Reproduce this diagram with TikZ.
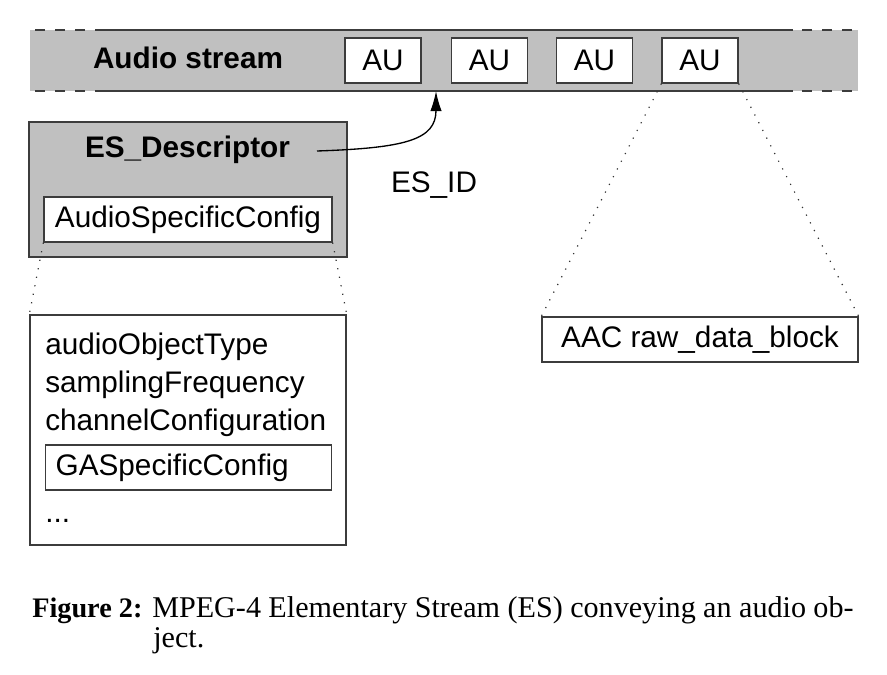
\documentclass[tikz,border=0pt]{standalone}
\usepackage{fontspec}
\setmainfont{Liberation Serif}
\newfontfamily\hv{Liberation Sans}
\usetikzlibrary{arrows.meta}
\definecolor{bandgray}{RGB}{192,192,192}
\definecolor{edgegray}{RGB}{60,60,60}
\begin{document}
\begin{tikzpicture}[x=0.75pt,y=-0.75pt,
  lbl/.style={font=\hv\fontsize{22.3}{26}\selectfont, inner sep=0pt},
  blbl/.style={font=\hv\bfseries\fontsize{22.3}{26}\selectfont, inner sep=0pt},
  boxw/.style={draw=edgegray, fill=white, line width=1pt, inner sep=0pt,
    font=\hv\fontsize{22.3}{26}\selectfont, minimum height=33.75pt},
  grayb/.style={draw=edgegray, fill=bandgray, line width=1pt, inner sep=0pt},
  bandline/.style={draw=edgegray, line width=1.4pt},
  banddash/.style={bandline, dash pattern=on 7.5pt off 7.5pt},
  dotl/.style={draw=black!80, line width=0.9pt, dash pattern=on 0.9pt off 5.6pt},
  capfont/.style={font=\fontsize{22.6}{27}\selectfont, inner sep=0pt},
  capbold/.style={font=\bfseries\fontsize{21.2}{27}\selectfont, inner sep=0pt}]
\useasboundingbox (0,0) rectangle (887,674);

% stream band
\node[fill=bandgray, minimum width=621pt, minimum height=45.75pt, inner sep=0pt] (stream) at (444,60.5) {};
\draw[banddash] (35,30) -- (95,30);
\draw[bandline] (95,30) -- (793,30);
\draw[banddash] (802,30) -- (858,30);
\draw[banddash] (35,91) -- (95,91);
\draw[bandline] (95,91) -- (793,91);
\draw[banddash] (802,91) -- (858,91);

\node[blbl] (streamlbl) at (188,58) {Audio stream};
\node[boxw, minimum width=57pt] (au1) at (383,60.5) {AU};
\node[boxw, minimum width=57pt] (au2) at (489.5,60.5) {AU};
\node[boxw, minimum width=57pt] (au3) at (594.5,60.5) {AU};
\node[boxw, minimum width=57pt] (au4) at (700,60.5) {AU};

% ES descriptor
\node[grayb, minimum width=238.5pt, minimum height=101.25pt] (esd) at (188,189.5) {};
\node[blbl] (esdlbl) at (187.5,150) {ES\_Descriptor};
\node[boxw, minimum width=216pt] (asc) at (188,219.5) {AudioSpecificConfig};

% arrow
\coordinate (src) at (317,151);
\coordinate (tip) at (436,91);
\draw[line width=1pt, -{Latex[length=15pt,width=8.5pt]}] (src) .. controls (405,148) and (436,140) .. (tip);
\node[lbl, anchor=base] (esid) at (434,192) {ES\_ID};

% config box
\node[boxw, minimum width=237pt, minimum height=172.5pt] (cfg) at (188,430) {};
\node[lbl, anchor=base west] (l1) at (45,354) {audioObjectType};
\node[lbl, anchor=base west] (l2) at (45,392) {samplingFrequency};
\node[lbl, anchor=base west] (l3) at (45,430) {channelConfiguration};
\node[boxw, anchor=west, text width=199.5pt, inner xsep=7.5pt, align=left, minimum width=214.5pt] (ga) at (45,467.5) {GASpecificConfig};
\node[lbl, anchor=base west] (dots) at (45,522) {...};

% AAC
\node[boxw, minimum width=237pt] (aac) at (700,339.5) {AAC raw\_data\_block};

% dotted
\draw[dotl] (asc.south west) -- (cfg.north west);
\draw[dotl] (asc.south east) -- (cfg.north east);
\draw[dotl] (au4.south west) -- (aac.north west);
\draw[dotl] (au4.south east) -- (aac.north east);

% caption
\node[capbold, anchor=base west] (fig) at (32,617) {Figure 2:};
\node[capfont, anchor=base west] (cap1) at (152,617) {\makebox[526pt][s]{MPEG-4 Elementary Stream (ES) conveying an audio ob-}};
\node[capfont, anchor=base west] (cap2) at (153,647) {ject.};
\end{tikzpicture}
\end{document}
